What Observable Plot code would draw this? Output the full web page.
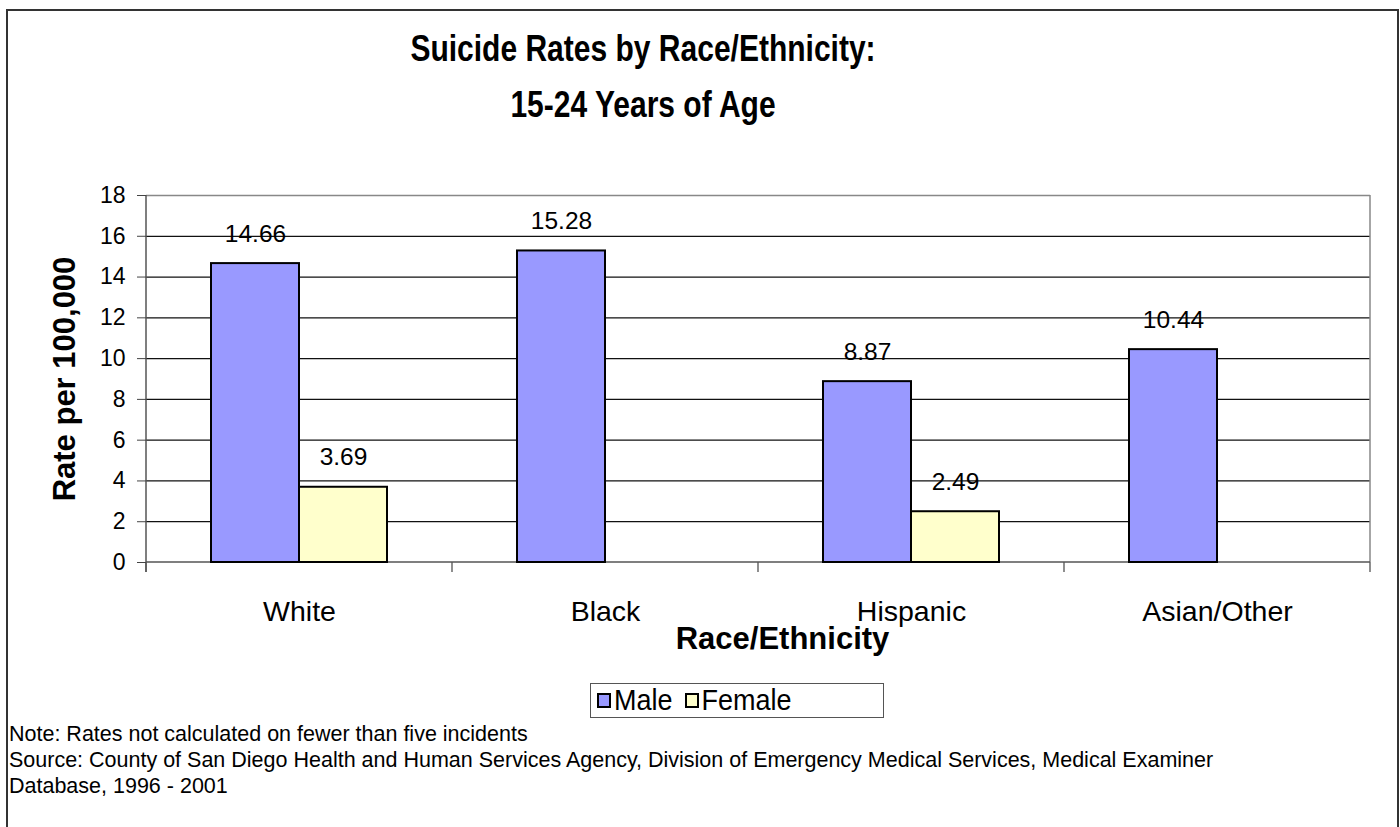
<!DOCTYPE html>
<html>
<head>
<meta charset="utf-8">
<script src="https://cdn.jsdelivr.net/npm/d3@7"></script>
<script src="https://cdn.jsdelivr.net/npm/@observablehq/plot@0.6"></script>
<style>
  body { margin: 0; background: #fff; font-family: "Liberation Sans", Arial, sans-serif; color: #000; }
  #page { position: relative; width: 1400px; height: 827px; overflow: hidden; background: #fff; }
  #border { position: absolute; left: 6px; top: 9px; width: 1393px; height: 840px; border: 2px solid #333; box-sizing: border-box; pointer-events: none; }
  #chart { position: absolute; left: 0; top: 0; }
  #title { position: absolute; left: 0; top: 21px; width: 1286px; text-align: center; font-weight: bold; font-size: 30px; line-height: 56px; }
  #title div { transform: scaleY(1.2); transform-origin: 50% 50%; }
  #legend { position: absolute; left: 590px; top: 683px; width: 294px; height: 35px; border: 1px solid #555; box-sizing: border-box; display: flex; align-items: center; padding-left: 6px; font-size: 27px; }
  #legend .item { display: flex; align-items: center; margin-right: 12px; }
  #legend .item span { display: inline-block; transform: scaleY(1.1); }
  #legend .swatch { width: 10px; height: 11px; border: 2px solid #000; margin-right: 3px; }
  #notes { position: absolute; left: 9px; top: 721px; font-size: 21.5px; line-height: 26px; }
</style>
</head>
<body>
<div id="page">
  <div id="chart"></div>
  <div id="title"></div>
  <div id="legend"></div>
  <div id="notes"></div>
  <div id="border"></div>
</div>
<script>
// Suicide rates per 100,000, ages 15-24, by race/ethnicity and sex
const races = ["White", "Black", "Hispanic", "Asian/Other"];
const maleRates = [14.66, 15.28, 8.87, 10.44];
const femaleRates = [3.69, null, 2.49, null]; // not calculated on fewer than five incidents
const sexes = ["Male", "Female"];
const sexColors = ["#9999FF", "#FFFFCC"];
const yTicks = [0, 2, 4, 6, 8, 10, 12, 14, 16, 18];

const titleLines = ["Suicide Rates by Race/Ethnicity:", "15-24 Years of Age"];
const yLabel = "Rate per 100,000";
const xLabel = "Race/Ethnicity";
const noteLines = [
  "Note: Rates not calculated on fewer than five incidents",
  "Source: County of San Diego Health and Human Services Agency, Division of Emergency Medical Services, Medical Examiner",
  "Database, 1996 - 2001"
];

// Long-format table; missing rates are dropped
const rows = races.flatMap((race, i) => [
  {race, sex: "Male", rate: maleRates[i]},
  {race, sex: "Female", rate: femaleRates[i]}
]).filter(d => d.rate != null);
const male = rows.filter(d => d.sex === "Male");
const female = rows.filter(d => d.sex === "Female");

// Plot-area edges, category boundary ticks and the left axis line
function frameLines(index, scales, values, dims) {
  const {x, y} = scales;
  const left = dims.marginLeft;
  const right = dims.width - dims.marginRight;
  const top = dims.marginTop;
  const bottom = y(0);
  const g = d3.create("svg:g");
  g.append("line").attr("x1", right).attr("x2", right).attr("y1", top).attr("y2", bottom)
    .attr("stroke", "#888").attr("stroke-width", 1.5);
  const edges = races.map(r => x(r)).concat([right]);
  for (const e of edges) {
    g.append("line").attr("x1", e).attr("x2", e).attr("y1", bottom).attr("y2", bottom + 10)
      .attr("stroke", "#444").attr("stroke-width", 1.2);
  }
  g.append("line").attr("x1", left).attr("x2", right).attr("y1", bottom).attr("y2", bottom)
    .attr("stroke", "#555").attr("stroke-width", 1.5);
  g.append("line").attr("x1", left).attr("x2", left).attr("y1", top).attr("y2", bottom + 10)
    .attr("stroke", "#555").attr("stroke-width", 1.5);
  return g.node();
}

const chart = Plot.plot({
  width: 1400,
  height: 827,
  marginLeft: 146,
  marginRight: 30,
  marginTop: 195,
  marginBottom: 265,
  style: {fontFamily: '"Liberation Sans", Arial, sans-serif', background: "transparent", color: "#000"},
  x: {domain: races, padding: 0, label: null},
  y: {domain: [0, 18], label: null},
  color: {domain: sexes, range: sexColors},
  marks: [
    Plot.ruleY(yTicks.filter(v => v > 0 && v < 18), {stroke: "#111", strokeWidth: 1.2}),
    Plot.ruleY([18], {stroke: "#888", strokeWidth: 1.5}),
    frameLines,
    Plot.barY(male, {x: "race", y: "rate", fill: "sex", stroke: "#000", strokeWidth: 2, insetLeft: 65, insetRight: 153}),
    Plot.barY(female, {x: "race", y: "rate", fill: "sex", stroke: "#000", strokeWidth: 2, insetLeft: 153, insetRight: 65}),
    Plot.text(male, {x: "race", y: "rate", text: d => d.rate.toFixed(2), dx: -44, dy: -22, fontSize: 24.5, lineAnchor: "bottom", fill: "#000"}),
    Plot.text(female, {x: "race", y: "rate", text: d => d.rate.toFixed(2), dx: 44, dy: -22, fontSize: 24.5, lineAnchor: "bottom", fill: "#000"}),
    Plot.axisY(yTicks, {tickSize: 9, tickPadding: 12, fontSize: 23, label: null, stroke: "#444"}),
    Plot.axisX({tickSize: 0, tickPadding: 38, fontSize: 28.5, label: null}),
    Plot.text([yLabel], {text: d => d, frameAnchor: "left", textAnchor: "middle", rotate: -90, dx: -81, fontSize: 31, fontWeight: "bold"}),
    Plot.text([xLabel], {text: d => d, frameAnchor: "bottom", dx: 24, dy: 86, fontSize: 31, fontWeight: "bold"})
  ]
});
document.getElementById("chart").appendChild(chart);

// Title, legend and notes
d3.select("#title").selectAll("div").data(titleLines).join("div").text(d => d);
const items = d3.select("#legend").selectAll(".item").data(sexes).join("div").attr("class", "item");
items.append("div").attr("class", "swatch").style("background", (d, i) => sexColors[i]);
items.append("span").text(d => d);
d3.select("#notes").selectAll("div").data(noteLines).join("div").text(d => d);
</script>
</body>
</html>
